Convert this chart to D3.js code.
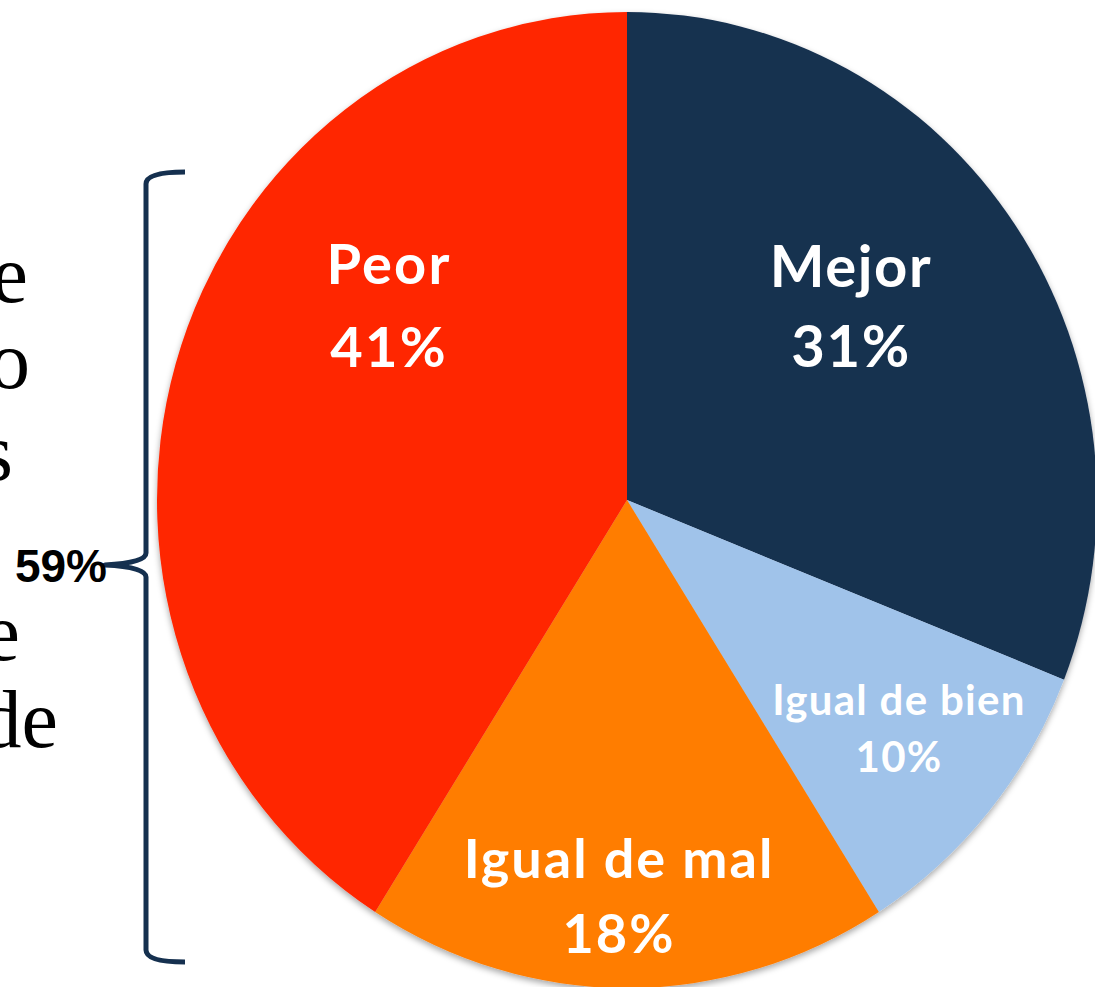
<!DOCTYPE html>
<html>
<head>
<meta charset="utf-8">
<script src="https://cdn.jsdelivr.net/npm/d3@7/dist/d3.min.js"></script>
<style>
  html, body { margin: 0; padding: 0; background: #ffffff; }
  svg { display: block; }
</style>
</head>
<body>
<svg id="chart" width="1095" height="987"></svg>
<script>
// ---- data ----
const categories = ["Mejor", "Igual de bien", "Igual de mal", "Peor"];
const values = [31, 10, 18, 41];
const colors = ["#15304F", "#A0C3EA", "#FF7D00", "#FF2600"];
const bracketLabel = "59%";
const sideTextFragments = ["e", "o", "s", "e", "de"];

// ---- layout ----
const W = 1095, H = 987;
const cx = 627, cy = 500, rx = 470, ry = 488;
// label anchors (first-line baseline) and font sizes
const labelLayout = [
  { x: 851, y: 287, size: 58, gap: 80, ls: 1.6 },
  { x: 899, y: 715, size: 42, gap: 57, ls: 1.3 },
  { x: 619, y: 878, size: 54, gap: 75, ls: 2.0 },
  { x: 389, y: 284, size: 56, gap: 83, ls: 2.2 }
];

const svg = d3.select("#chart");

const defs = svg.append("defs");
const f = defs.append("filter").attr("id", "shadow")
  .attr("x", "-10%").attr("y", "-10%").attr("width", "120%").attr("height", "120%");
f.append("feDropShadow").attr("dx", 0).attr("dy", 3).attr("stdDeviation", 3)
  .attr("flood-color", "#000").attr("flood-opacity", 0.35);

const pie = d3.pie().sort(null).value(d => d).startAngle(0).endAngle(2 * Math.PI);
const arcs = pie(values);
const arc = d3.arc().innerRadius(0).outerRadius(rx);

const outerG = svg.append("g").attr("filter", "url(#shadow)");
const pg = outerG.append("g")
  .attr("transform", `translate(${cx},${cy}) scale(1,${ry / rx})`);

pg.selectAll("path")
  .data(arcs)
  .join("path")
  .attr("d", arc)
  .attr("fill", (d, i) => colors[i]);

// labels
const fontStack = "Lato, 'Open Sans', 'Noto Sans', sans-serif";
const lg = svg.append("g");
arcs.forEach((d, i) => {
  const L = labelLayout[i];
  const t = lg.append("text")
    .attr("text-anchor", "middle")
    .attr("font-family", fontStack)
    .attr("font-weight", 700)
    .attr("font-size", L.size)
    .attr("letter-spacing", L.ls)
    .attr("fill", "#ffffff");
  t.append("tspan").attr("x", L.x).attr("y", L.y).text(categories[i]);
  t.append("tspan").attr("x", L.x).attr("y", L.y + L.gap)
    .text(Math.round(d.value) + "%");
});

// bracket
const bX = 146, bTop = 172, bBot = 962, bMid = 565, bTip = 105, bHook = 185;
const bp = d3.path();
bp.moveTo(bHook, bTop);
bp.quadraticCurveTo(bX, bTop, bX, bTop + 12);
bp.lineTo(bX, bMid - 12);
bp.quadraticCurveTo(bX, bMid - 2, bTip, bMid);
bp.quadraticCurveTo(bX, bMid + 2, bX, bMid + 12);
bp.lineTo(bX, bBot - 12);
bp.quadraticCurveTo(bX, bBot, bHook, bBot);
svg.append("path")
  .attr("d", bp.toString())
  .attr("fill", "none")
  .attr("stroke", "#15304F")
  .attr("stroke-width", 5)
  .attr("stroke-linejoin", "round");

svg.append("text")
  .attr("x", 107).attr("y", 582)
  .attr("text-anchor", "end")
  .attr("font-family", "'Liberation Sans', Arial, sans-serif")
  .attr("font-weight", 700)
  .attr("font-size", 46)
  .attr("fill", "#000")
  .text(bracketLabel);

// side text (serif text clipped by the left edge, as in the reference)
const sidePos = [
  { x: 28, y: 302 },
  { x: 30, y: 388 },
  { x: 13, y: 480 },
  { x: 20, y: 660 },
  { x: 58, y: 747 }
];
svg.append("g").selectAll("text")
  .data(sideTextFragments)
  .join("text")
  .attr("x", (d, i) => sidePos[i].x)
  .attr("y", (d, i) => sidePos[i].y)
  .attr("text-anchor", "end")
  .attr("font-family", "'Liberation Serif', 'Times New Roman', serif")
  .attr("font-size", 82)
  .attr("fill", "#000")
  .text(d => d);
</script>
</body>
</html>
